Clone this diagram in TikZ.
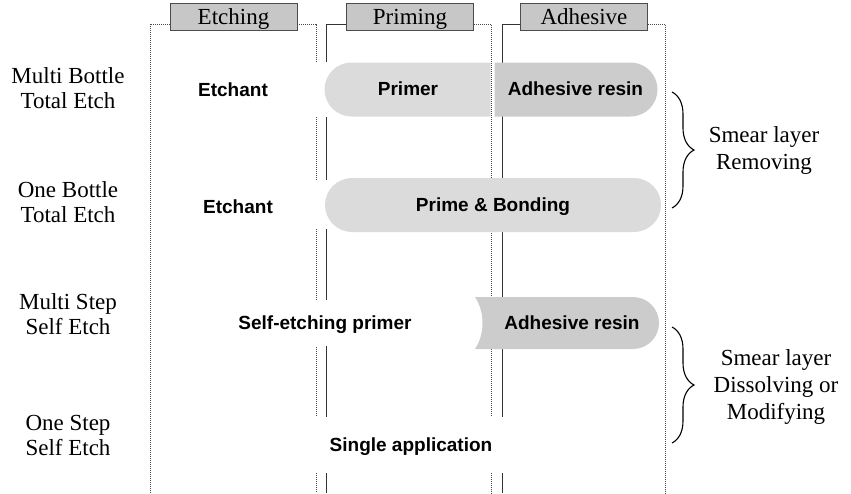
\documentclass[tikz,border=0pt]{standalone}
\usepackage{fontspec}
\setmainfont{Liberation Serif}
\setsansfont{Liberation Sans}
\usetikzlibrary{shapes.misc,decorations.pathreplacing}

\begin{document}
\begin{tikzpicture}[x=1pt, y=-1pt,
    head/.style={
        rectangle, draw=black!70, fill=black!22, line width=0.8pt,
        minimum width=127pt, minimum height=27pt, inner sep=0pt,
        text height=17pt, text depth=2pt,
        font=\fontsize{23}{26}\selectfont
    },
    lane/.style={black!80, line width=0.8pt},
    laneb/.style={black!70, line width=1pt, densely dotted},
    row/.style={align=center, font=\fontsize{23}{25}\selectfont},
    stage/.style={
        font=\sffamily\bfseries\fontsize{19}{22}\selectfont,
        text height=13.5pt, text depth=1pt, inner sep=2pt
    },
    pill/.style={
        rounded rectangle, draw=none, minimum height=54pt,
        inner sep=0pt, stage
    },
    light/.style={fill=black!14},
    dark/.style={fill=black!20},
    mask/.style={fill=white},
    brc/.style={decorate, decoration={brace, amplitude=22pt}, line width=1.1pt},
    note/.style={align=center, font=\fontsize{23}{27}\selectfont}
]
\useasboundingbox (0,0) rectangle (851,493);

% --- Column headers ---
\node[head] (etchhd) at (233.5,17) {Etching};
\node[head] (primhd) at (410,17)   {Priming};
\node[head] (adhhd)  at (584,17)   {Adhesive};

% --- Column lanes ---
\draw[laneb] ([yshift=-7pt]etchhd.west) -| (150,493);
\draw[laneb] ([yshift=-7pt]etchhd.east) -| (316,493);
\draw[lane]  ([yshift=-7pt]primhd.west) -| (326,493);
\draw[laneb] ([yshift=-7pt]primhd.east) -| (491,493);
\draw[lane]  ([yshift=-7pt]adhhd.west)  -| (502,493);
\draw[laneb] ([yshift=-7pt]adhhd.east)  -| (665,493);

% gaps in the lanes beside the pills
\fill[mask] (306,62) rectangle (336,117);
\fill[mask] (306,180) rectangle (336,229);

% --- Row labels ---
\node[row] (mbte) at (68,88)  {Multi Bottle\\Total Etch};
\node[row] (obte) at (68,202) {One Bottle\\Total Etch};
\node[row] (msse) at (68,314) {Multi Step\\Self Etch};
\node[row] (osse) at (68,435) {One Step\\Self Etch};

% --- Multi bottle total etch ---
\node[stage] (etch1) at (233,90) {Etchant};
\node[pill, light, rounded rectangle east arc=none, minimum width=170pt]
    (primer) at (408,89.5) {Primer};
\node[pill, dark, rounded rectangle west arc=none, minimum width=167pt]
    (adh1) at (575.5,89.5) {Adhesive resin};

% --- One bottle total etch ---
\node[stage] (etch2) at (238,207) {Etchant};
\node[pill, light, minimum width=340pt] (bond) at (493,205) {Prime \& Bonding};

% --- Multi step self etch ---
\fill[dark] (475,297) .. controls (485,312) and (485,334) .. (475,349)
    -- (633,349) arc[start angle=90, end angle=-90, radius=26] -- cycle;
\node[stage] (adh3) at (572,323) {Adhesive resin};
\node[stage, fill=white, minimum height=46pt] (selfetch) at (325,323) {Self-etching primer};

% --- One step self etch ---
\node[stage, fill=white, minimum width=212pt, minimum height=56pt]
    (single) at (411,445) {Single application};

% --- Braces ---
\coordinate (rmtop) at (672,92);
\coordinate (rmbot) at (672,208);
\coordinate (dstop) at (672,327);
\coordinate (dsbot) at (672,443);
\draw[brc] (rmtop) -- (rmbot);
\draw[brc] (dstop) -- (dsbot);
\node[note] (removing)  at (764,150) {Smear layer\\Removing};
\node[note] (dissolving) at (776,387) {Smear layer\\Dissolving or\\Modifying};

\end{tikzpicture}
\end{document}
